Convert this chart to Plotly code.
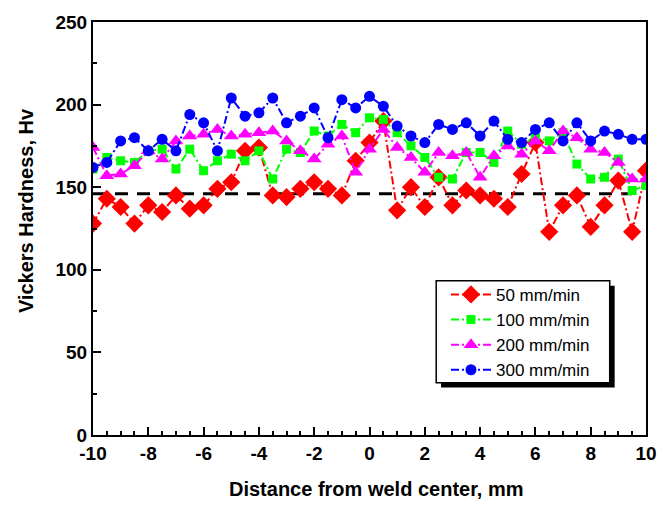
import plotly.graph_objects as go

# Measurement positions across the weld (mm), every 0.5 mm
distance = [-10 + 0.5 * k for k in range(41)]

hv_50 = [128, 143, 138, 128, 139, 135, 145, 137, 139, 149, 153, 172, 174, 145, 144, 149,
         153, 149, 145, 166, 177, 190, 136, 150, 138, 156, 139, 148, 145, 143, 138, 158,
         177, 123, 139, 145, 126, 139, 154, 123, 160]
hv_100 = [161, 168, 166, 165, 172, 173, 161, 173, 160, 166, 170, 166, 172, 155, 173, 171,
          184, 181, 188, 183, 192, 191, 183, 175, 168, 156, 155, 171, 171, 165, 184, 176,
          180, 178, 183, 164, 155, 156, 167, 148, 151]
hv_200 = [174, 157, 158, 163, 172, 167, 178, 181, 182, 185, 181, 182, 183, 184, 178, 172,
          167, 176, 181, 159, 173, 185, 174, 168, 159, 171, 169, 171, 156, 169, 175, 170,
          178, 172, 184, 180, 173, 171, 165, 155, 155]
hv_300 = [162, 165, 178, 180, 172, 179, 172, 194, 189, 172, 204, 193, 195, 204, 189, 193,
          198, 180, 203, 198, 205, 199, 187, 181, 177, 188, 185, 189, 181, 190, 179, 177,
          185, 189, 178, 189, 178, 184, 182, 179, 179]

# Base metal hardness reference level
base_x = [-10, 9.5]
base_hv = [146, 146]

x_ticks = list(range(-10, 11, 2))
x_tick_text = [str(v) for v in x_ticks]
y_ticks = list(range(0, 251, 50))

series = [
    ("50 mm/min", hv_50, "#FF0000", "diamond", 14),
    ("100 mm/min", hv_100, "#00FF00", "square", 9),
    ("200 mm/min", hv_200, "#FF00FF", "triangle-up", 13),
    ("300 mm/min", hv_300, "#0000FF", "circle", 11),
]

FONT = "Liberation Sans, Arial, sans-serif"
TITLE_FONT = dict(family=FONT, size=20, color="black", weight="bold")

fig = go.Figure()

fig.add_trace(go.Scatter(
    x=base_x, y=base_hv, mode="lines", showlegend=False,
    line=dict(color="black", width=3, dash="13px,9px"),
))

for name, vals, color, symbol, size in series:
    fig.add_trace(go.Scatter(
        x=distance, y=vals, name=name, mode="lines+markers",
        line=dict(color=color, width=2, dash="8px,3px,2px,3px"),
        marker=dict(symbol=symbol, size=size, color=color, line=dict(width=0)),
    ))

axis_common = dict(
    showgrid=False, zeroline=False, showline=True, linecolor="black", linewidth=2,
    mirror=True, ticks="inside", ticklen=8, tickwidth=2, tickcolor="black",
    tickfont=dict(family=FONT, size=19, color="black", weight="bold"),
)

fig.update_xaxes(
    range=[-10, 10], tickmode="array", tickvals=x_ticks, ticktext=x_tick_text,
    minor=dict(ticks="inside", ticklen=4, tickwidth=1.5, tickcolor="black", dtick=0.5),
    **axis_common,
)
fig.update_yaxes(
    range=[0, 250], tickmode="array", tickvals=y_ticks,
    minor=dict(ticks="inside", ticklen=4, tickwidth=1.5, tickcolor="black", dtick=25),
    **axis_common,
)

# Axis titles
fig.add_annotation(text="Distance from weld center, mm", xref="paper", yref="paper",
                   x=0.512, y=-0.1316, xanchor="center", yanchor="middle",
                   showarrow=False, font=TITLE_FONT)
fig.add_annotation(text="Vickers Hardness, Hv", xref="paper", yref="paper",
                   x=-0.1223, y=0.543, xanchor="center", yanchor="middle",
                   textangle=-90, showarrow=False, font=TITLE_FONT)

# Legend frame with a drop shadow
fig.add_shape(type="rect", xref="paper", yref="paper", layer="above",
              x0=0.6294, x1=0.9433, y0=0.1148, y1=0.3612,
              fillcolor="black", line=dict(width=0))
fig.add_shape(type="rect", xref="paper", yref="paper", layer="above",
              x0=0.6206, x1=0.9344, y0=0.1268, y1=0.3732,
              fillcolor="white", line=dict(color="black", width=1.5))

fig.update_layout(
    width=669, height=505,
    margin=dict(l=93, r=12, t=17, b=70),
    paper_bgcolor="white", plot_bgcolor="white",
    legend=dict(
        x=0.6383, y=0.3828, xanchor="left", yanchor="top",
        bgcolor="rgba(0,0,0,0)", borderwidth=0,
        font=dict(family=FONT, size=17, color="black"),
        itemwidth=40,
    ),
)

fig.write_html("out.html")
